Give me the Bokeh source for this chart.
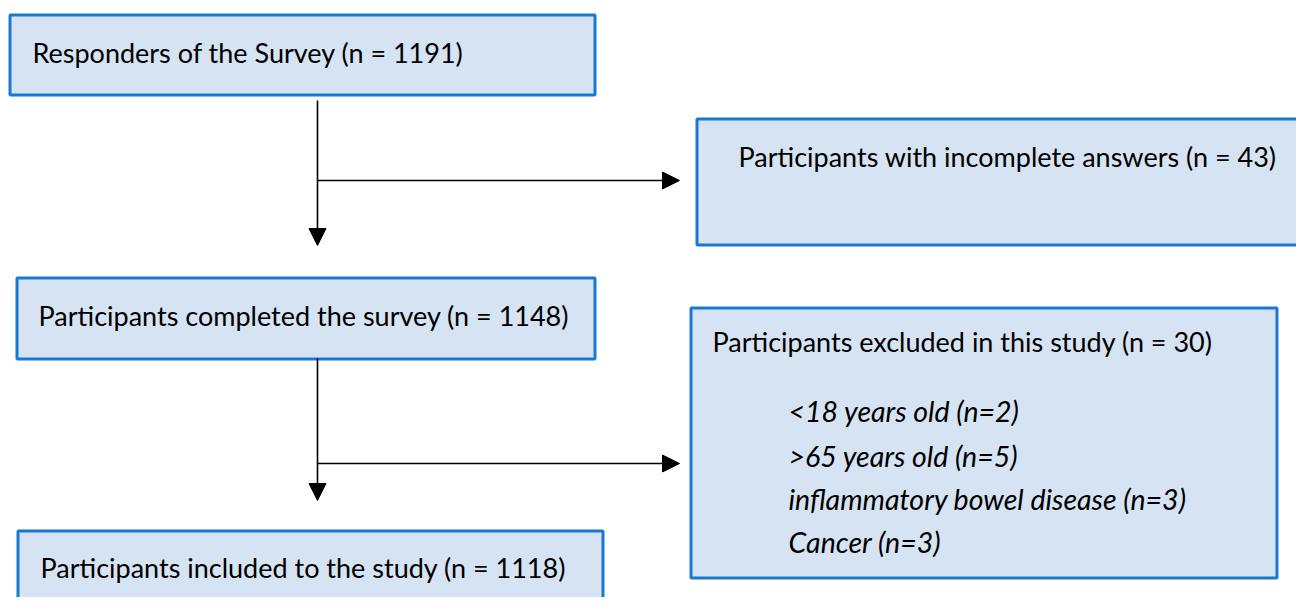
from bokeh.plotting import figure
from bokeh.models import Range1d, Arrow, NormalHead, Label
from bokeh.embed import file_html
from bokeh.resources import INLINE

# --- content ---
box_titles = [
    "Responders of the Survey (n = 1191)",
    "Participants with incomplete answers (n = 43)",
    "Participants completed the survey (n = 1148)",
    "Participants excluded in this study (n = 30)",
    "Participants included to the study (n = 1118)",
]
exclusion_items = [
    "<18 years old (n=2)",
    ">65 years old (n=5)",
    "inflammatory bowel disease (n=3)",
    "Cancer (n=3)",
]

# layout (page coordinates, y downward)
boxes = [  # left, top, right, bottom
    (9.5, 14.5, 594.5, 94.5),
    (696.5, 118.5, 1320, 244.5),
    (16.5, 277.5, 594.5, 358.5),
    (690.5, 307.5, 1276.5, 577.5),
    (17.5, 530.5, 602.5, 640),
]
title_pos = [(32, 52), (738, 156), (38, 315), (712, 341), (40, 567)]
item_x = 788
item_y = [410, 455, 498, 541]

FONT = "Lato"
FS = "27px"
FS_IT = "28.5px"

W, H = 1296, 597
p = figure(width=W, height=H, output_backend="svg", toolbar_location=None,
           x_range=Range1d(0, W), y_range=Range1d(H, 0),
           min_border=0, outline_line_color=None)
p.axis.visible = False
p.grid.visible = False
p.background_fill_color = "white"

lefts = [b[0] for b in boxes]
tops = [b[1] for b in boxes]
rights = [b[2] for b in boxes]
bottoms = [b[3] for b in boxes]
p.quad(left=lefts, right=rights, top=tops, bottom=bottoms,
       fill_color="#d5e3f2", line_color="#1a78d2", line_width=3)

for t, (x, y) in zip(box_titles, title_pos):
    p.add_layout(Label(x=x, y=y, text=t, text_font=FONT, text_font_size=FS,
                       text_baseline="middle", text_align="left", text_color="black"))
for t, y in zip(exclusion_items, item_y):
    p.add_layout(Label(x=item_x, y=y, text=t, text_font=FONT, text_font_size=FS_IT,
                       text_font_style="italic", text_baseline="middle",
                       text_align="left", text_color="black"))

# connectors
vx = 317
segments = [  # x0, y0, x1, y1
    (vx, 100, vx, 245),
    (vx, 180, 679, 180),
    (vx, 358, vx, 500),
    (vx, 463, 679, 463),
]
for x0, y0, x1, y1 in segments:
    p.add_layout(Arrow(end=NormalHead(size=17, fill_color="black", line_color="black", line_width=1),
                       x_start=x0, y_start=y0, x_end=x1, y_end=y1,
                       line_color="black", line_width=1.6))

open("out.html", "w").write(file_html(p, INLINE))
